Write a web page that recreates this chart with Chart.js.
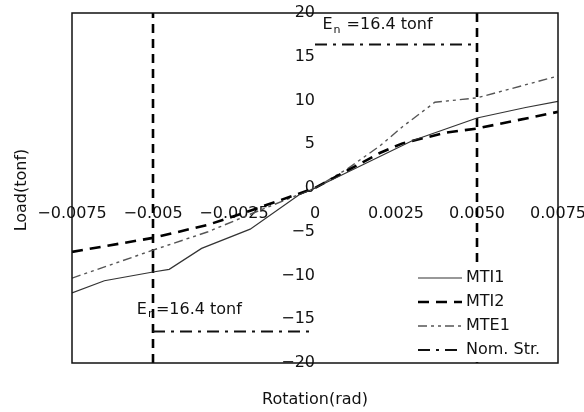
<!DOCTYPE html>
<html>
<head>
<meta charset="utf-8">
<script src="https://cdn.jsdelivr.net/npm/chart.js@4/dist/chart.umd.min.js"></script>
<style>
  html, body { margin: 0; padding: 0; background: #fff; }
  #wrap { width: 584px; height: 412px; }
</style>
</head>
<body>
<div id="wrap"><canvas id="chart"></canvas></div>
<script>
// tick values and labels
const xTicks = [-0.0075, -0.005, -0.0025, 0, 0.0025, 0.005, 0.0075];
const xTickLabels = ['\u22120.0075', '\u22120.005', '\u22120.0025', '0', '0.0025', '0.0050', '0.0075'];
const yTicks = [-20, -15, -10, -5, 0, 5, 10, 15, 20];
const yTickLabels = ['\u221220', '\u221215', '\u221210', '\u22125', '0', '5', '10', '15', '20'];

// series
const mti1X = [-0.0075, -0.0065, -0.005, -0.0045, -0.0035, -0.002, -0.0005, 0, 0.001, 0.002, 0.003, 0.005, 0.0065, 0.0075];
const mti1Y = [-12.0, -10.6, -9.6, -9.3, -6.9, -4.7, -0.8, 0, 1.8, 3.6, 5.4, 8.0, 9.2, 9.9];

const mti2X = [-0.0075, -0.005, -0.0033, -0.002, 0, 0.001, 0.002, 0.0027, 0.004, 0.005, 0.0075];
const mti2Y = [-7.3, -5.7, -4.2, -2.6, 0, 2.0, 4.0, 5.1, 6.3, 6.8, 8.7];

const mte1X = [-0.0075, -0.005, -0.0033, -0.002, 0, 0.001, 0.002, 0.0027, 0.0037, 0.005, 0.0075];
const mte1Y = [-10.3, -7.1, -5.0, -3.0, 0, 2.2, 4.8, 7.0, 9.8, 10.3, 12.8];

// nominal strength En = 16.4 tonf (null splits the two segments)
const nomX = [0, 0.005, null, -0.005, 0];
const nomY = [16.4, 16.4, null, -16.4, -16.4];

// vertical guide lines at +/-0.005 rad
const guideX = [-0.005, -0.005, null, 0.005, 0.005];
const guideY = [-20, 20, null, 20, -20];

const FONT = '"DejaVu Sans", sans-serif';

function pts(xs, ys) {
  return xs.map((x, i) => (x === null ? { x: NaN, y: NaN } : { x: x, y: ys[i] }));
}

function noPad(s) {
  s.paddingLeft = 0; s.paddingRight = 0; s.paddingTop = 0; s.paddingBottom = 0;
}

const frame = {
  id: 'frame',
  afterDatasetsDraw(chart) {
    const ctx = chart.ctx;
    const a = chart.chartArea;
    const sx = chart.scales.x, sy = chart.scales.y;
    ctx.save();

    // plot box
    ctx.strokeStyle = '#111';
    ctx.lineWidth = 1.5;
    ctx.strokeRect(a.left, a.top, a.right - a.left, a.bottom - a.top);

    // En labels
    ctx.fillStyle = '#111';
    ctx.textBaseline = 'middle';
    function enLabel(x, y, rest) {
      ctx.font = '16px ' + FONT;
      ctx.textAlign = 'left';
      ctx.fillText('E', x, y);
      const w = ctx.measureText('E').width;
      ctx.font = '11px ' + FONT;
      ctx.fillText('n', x + w + 1, y + 5);
      const w2 = ctx.measureText('n').width;
      ctx.font = '16px ' + FONT;
      ctx.fillText(rest, x + w + w2 + 2, y);
    }
    enLabel(sx.getPixelForValue(0.00023), sy.getPixelForValue(18.6), ' =16.4 tonf');
    enLabel(sx.getPixelForValue(-0.0055), sy.getPixelForValue(-13.9), '=16.4 tonf');

    // legend
    ctx.fillStyle = '#fff';
    ctx.fillRect(410, 266, a.right - 411, a.bottom - 267);
    let row = 278;
    chart.data.datasets.forEach(ds => {
      if (!ds.label) return;
      ctx.strokeStyle = ds.borderColor;
      ctx.lineWidth = ds.borderWidth;
      ctx.setLineDash(ds.borderDash || []);
      ctx.beginPath();
      ctx.moveTo(418, row);
      ctx.lineTo(462, row);
      ctx.stroke();
      ctx.setLineDash([]);
      ctx.fillStyle = '#111';
      ctx.font = '16px ' + FONT;
      ctx.textAlign = 'left';
      ctx.fillText(ds.label, 466, row);
      row += 24;
    });

    // axis titles
    ctx.fillStyle = '#111';
    ctx.font = '16px ' + FONT;
    ctx.textAlign = 'center';
    ctx.fillText('Rotation(rad)', 315, 400);
    ctx.translate(22, 190);
    ctx.rotate(-Math.PI / 2);
    ctx.fillText('Load(tonf)', 0, 0);
    ctx.restore();
  }
};

new Chart(document.getElementById('chart'), {
  type: 'scatter',
  data: {
    datasets: [
      { label: 'MTI1', data: pts(mti1X, mti1Y), borderColor: '#333', borderWidth: 1.2 },
      { label: 'MTI2', data: pts(mti2X, mti2Y), borderColor: '#000', borderWidth: 2.6, borderDash: [11, 7] },
      { label: 'MTE1', data: pts(mte1X, mte1Y), borderColor: '#555', borderWidth: 1.4, borderDash: [9, 4, 3, 4, 3, 4] },
      { label: 'Nom. Str.', data: pts(nomX, nomY), borderColor: '#111', borderWidth: 2, borderDash: [12, 6, 3, 6] },
      { label: '', data: pts(guideX, guideY), borderColor: '#000', borderWidth: 2.6, borderDash: [9, 6] }
    ].map(d => Object.assign(d, { showLine: true, pointRadius: 0, fill: false, spanGaps: false, tension: 0 }))
  },
  options: {
    responsive: true,
    maintainAspectRatio: false,
    animation: false,
    layout: { padding: { left: 72, right: 26, top: 13, bottom: 49 } },
    plugins: { legend: { display: false }, tooltip: { enabled: false } },
    scales: {
      x: {
        type: 'linear',
        min: -0.0075,
        max: 0.0075,
        position: { y: 0 },
        grid: { display: false, drawTicks: false },
        border: { display: false },
        afterBuildTicks: s => { s.ticks = xTicks.map(v => ({ value: v })); },
        afterFit: noPad,
        ticks: {
          autoSkip: false,
          maxRotation: 0,
          padding: 16,
          color: '#111',
          font: { family: FONT, size: 16 },
          callback: (v, i) => xTickLabels[i]
        }
      },
      y: {
        type: 'linear',
        min: -20,
        max: 20,
        position: { x: 0 },
        grid: { display: false, drawTicks: false },
        border: { display: false },
        afterBuildTicks: s => { s.ticks = yTicks.map(v => ({ value: v })); },
        afterFit: noPad,
        ticks: {
          autoSkip: false,
          padding: 2,
          color: '#111',
          font: { family: FONT, size: 16 },
          callback: (v, i) => yTickLabels[i]
        }
      }
    }
  },
  plugins: [frame]
});
</script>
</body>
</html>
